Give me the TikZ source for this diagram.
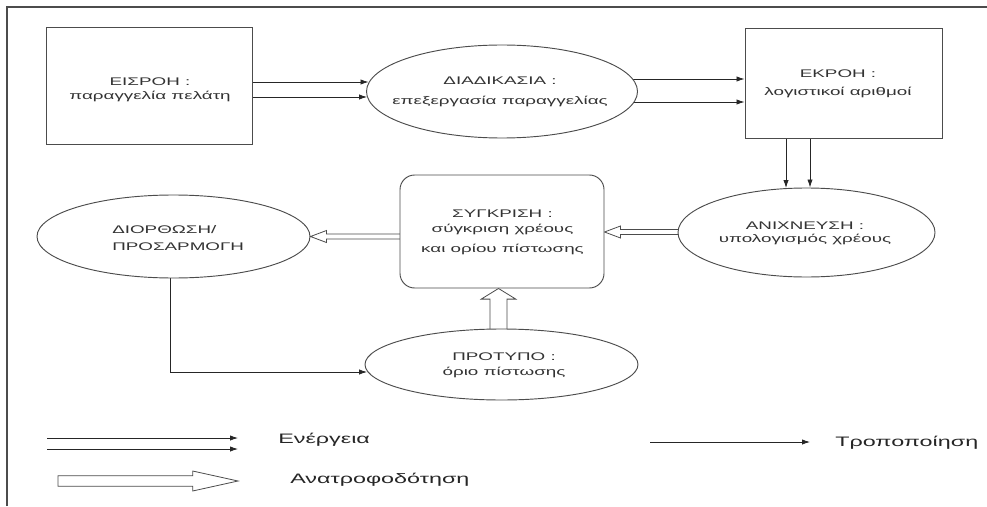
\documentclass[tikz,border=0pt]{standalone}
\usepackage{fontspec}
\setmainfont{Liberation Sans}[FakeStretch=1.7]
\usetikzlibrary{arrows.meta,calc,shapes.geometric}
\pgfdeclarelayer{background}
\pgfsetlayers{background,main}

% Hollow (outlined) feedback arrow from #2 to #3;
% #4 shaft half-width, #5 head half-width, #6 head length, #1 optional closing.
\newcommand{\hollowarrow}[6][]{%
  \coordinate (ha-s) at (#2);
  \coordinate (ha-e) at (#3);
  \coordinate (ha-b) at ($(ha-e)!#6!(ha-s)$);
  \filldraw[fbline]
    ($(ha-s)!#4!90:(ha-e)$) -- ($(ha-b)!#4!-90:(ha-s)$) --
    ($(ha-b)!#5!-90:(ha-s)$) -- (ha-e) --
    ($(ha-b)!#5!90:(ha-s)$) -- ($(ha-b)!#4!90:(ha-s)$) --
    ($(ha-s)!#4!-90:(ha-e)$) #1;
}

\tikzset{
  shp/.style={draw=black!70, line width=0.7pt, fill=white, inner sep=0pt},
  boxshape/.style={shp, rectangle},
  ovalshape/.style={shp, ellipse},
  act/.style={draw=black!85, line width=0.6pt, -{Latex[length=6pt,width=4pt]}},
  fbline/.style={draw=black!70, fill=white, line width=0.6pt, line join=miter},
  txt/.style={align=center, inner sep=0pt, text=black!80,
    font=\fontsize{8.3}{10.5}\selectfont},
  legtxt/.style={anchor=west, inner sep=0pt, text=black!85,
    font=\fontsize{10.3}{12}\selectfont},
  frameline/.style={draw=black!70, line width=1.4pt}
}

\begin{document}
\begin{tikzpicture}[x=0.75pt, y=-0.75pt]
\useasboundingbox (0,0) rectangle (987,506);

% outer frame (top and left edges)
\draw[frameline] (7,506) -- (7,7) -- (988,7);

% process blocks
\node[boxshape, minimum width=154.5pt, minimum height=87.75pt] (eis) at (149,85.5) {};
\node[txt] (eisT) at (150,90) {ΕΙΣΡΟΗ :\\παραγγελία πελάτη};

\node[ovalshape, minimum width=203.25pt, minimum height=69.75pt] (diad) at (502,91.5) {};
\node[txt] (diadT) at (500,91.5) {ΔΙΑΔΙΚΑΣΙΑ :\\[4.5pt]επεξεργασία παραγγελίας};

\node[boxshape, minimum width=147.75pt, minimum height=82.5pt] (ekr) at (843.5,83) {};
\node[txt] (ekrT) at (838,84) {ΕΚΡΟΗ :\\[3pt]λογιστικοί αριθμοί};

\node[ovalshape, minimum width=192.75pt, minimum height=66.75pt] (anix) at (806.5,232.5) {};
\node[txt, font=\fontsize{8.3}{9.8}\selectfont] (anixT) at (805,233.5) {ΑΝΙΧΝΕΥΣΗ :\\υπολογισμός χρέους};

\node[boxshape, rounded corners=11pt, minimum width=153pt, minimum height=84.75pt] (syg) at (502,231.5) {};
\node[txt, font=\fontsize{8.3}{11.25}\selectfont] (sygT) at (502.5,232.5) {ΣΥΓΚΡΙΣΗ :\\σύγκριση χρέους\\[3.75pt]και ορίου πίστωσης};

\node[ovalshape, minimum width=204.75pt, minimum height=62.25pt] (dior) at (173.5,236.5) {};
\node[txt, align=left, anchor=west, font=\fontsize{8.3}{12.75}\selectfont] (diorT) at (112,238.5) {ΔΙΟΡΘΩΣΗ/\\ΠΡΟΣΑΡΜΟΓΗ};

\node[ovalshape, minimum width=204.75pt, minimum height=53.25pt] (prot) at (501.5,364.5) {};
\node[txt, font=\fontsize{8.3}{11.25}\selectfont] (protT) at (504,365.5) {ΠΡΟΤΥΠΟ :\\όριο πίστωσης};

% attachment points of the connectors
\coordinate (eisA) at ($(eis.east)+(0,-3.5)$);
\coordinate (eisB) at ($(eis.east)+(0,11.5)$);
\coordinate (ekrA) at ($(ekr.west)+(0,-4)$);
\coordinate (ekrB) at ($(ekr.west)+(0,19)$);
\coordinate (ekrC) at ($(ekr.south)+(-57.5,0)$);
\coordinate (ekrD) at ($(ekr.south)+(-33.5,0)$);
\coordinate (protIn) at ($(prot.west)+(2.5,7.5)$);
\coordinate (diorOut) at ($(dior.center)+(-3.5,0)$);
\coordinate (sygR) at ($(syg.east)+(0,0.5)$);
\coordinate (sygB) at ($(syg.south)+(-3.5,0)$);

% connectors (behind the white-filled shapes)
\begin{pgfonlayer}{background}
  % order flow: input -> process
  \draw[act] (eisA) -- ($(eisA -| diad.west)+(2.5,0)$);
  \draw[act] (eisB) -- ($(eisB -| diad.west)+(1,0)$);
  % process -> output
  \draw[act] (ekrA -| diad.center) -- (ekrA);
  \draw[act] (ekrB -| diad.center) -- (ekrB);
  % output -> detection
  \draw[act] (ekrC) -- ($(ekrC |- anix.north)+(0,0.5)$);
  \draw[act] (ekrD) -- (ekrD |- anix.north);
  % correction -> standard
  \draw[act] (diorOut) |- (protIn);

  % feedback arrows
  \hollowarrow{sygR -| anix.center}{sygR}{1.9pt}{4.5pt}{12pt}
  \hollowarrow{dior.east -| syg.center}{dior.east}{1.9pt}{4.5pt}{12pt}
  \hollowarrow{sygB |- prot.center}{sygB}{6.4pt}{13pt}{8pt}
\end{pgfonlayer}

% legend
\coordinate (la1) at (47,438);  \coordinate (lb1) at (238,438);
\coordinate (la2) at (47,449);  \coordinate (lb2) at (238,449);
\draw[act] (la1) -- (lb1);
\draw[act] (la2) -- (lb2);
\node[legtxt] (legAct) at (278,440) {Ενέργεια};

\coordinate (lfa) at (58,481);  \coordinate (lfb) at (238,481);
\hollowarrow[-- cycle]{lfa}{lfb}{4pt}{7.5pt}{34pt}
\node[legtxt] (legFb) at (290,480) {Ανατροφοδότηση};

\coordinate (lma) at (650,442); \coordinate (lmb) at (810,442);
\draw[act] (lma) -- (lmb);
\node[legtxt] (legMod) at (835,443) {Τροποποίηση};
\end{tikzpicture}
\end{document}
